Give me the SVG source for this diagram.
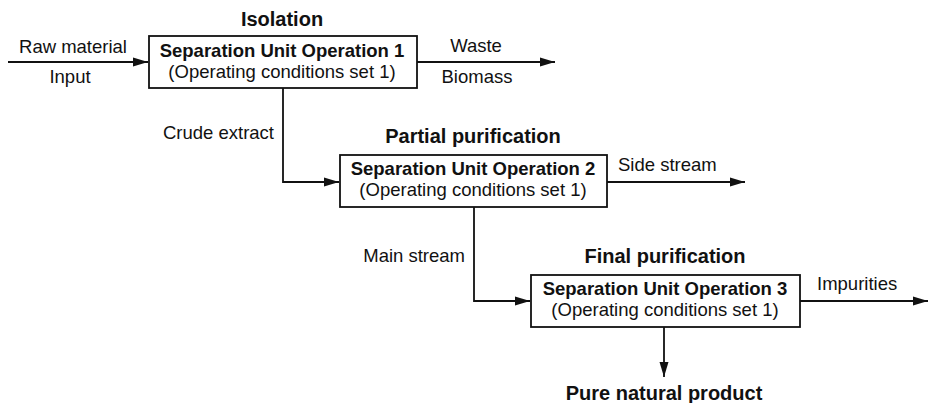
<svg xmlns="http://www.w3.org/2000/svg" width="928" height="403" viewBox="0 0 928 403">
<defs>
<marker id="ah" markerUnits="userSpaceOnUse" markerWidth="15" markerHeight="10" refX="15" refY="5" orient="auto">
<path d="M0,0.5 L15,5 L0,9.5 z" fill="#111"/>
</marker>
<style>
text{font-family:"Liberation Sans",Arial,sans-serif;fill:#111}
.lb{font-size:18.5px}
.bt{font-size:18.5px;font-weight:bold}
.hd{font-size:20px;font-weight:bold}
.box{fill:#fff;stroke:#111;stroke-width:1.8}
.c{fill:none;stroke:#111;stroke-width:1.8}
.m{text-anchor:middle}
.e{text-anchor:end}
</style>
</defs>
<g id="connectors">
<path class="c" d="M8,62 H148" marker-end="url(#ah)"/>
<path class="c" d="M417,62 H555" marker-end="url(#ah)"/>
<path class="c" d="M283,88 V182 H339" marker-end="url(#ah)"/>
<path class="c" d="M607,182 H745" marker-end="url(#ah)"/>
<path class="c" d="M474,207 V301 H530" marker-end="url(#ah)"/>
<path class="c" d="M800,301 H928" marker-end="url(#ah)"/>
<path class="c" d="M664,327 V377" marker-end="url(#ah)"/>
<text class="lb m" x="73" y="53">Raw material</text>
<text class="lb m" x="70" y="83">Input</text>
<text class="lb m" x="476" y="52">Waste</text>
<text class="lb m" x="477" y="83">Biomass</text>
<text class="lb e" x="274" y="139">Crude extract</text>
<text class="lb" x="618" y="171">Side stream</text>
<text class="lb e" x="465" y="262">Main stream</text>
<text class="lb" x="817" y="290">Impurities</text>
</g>
<g id="op1">
<text class="hd m" x="282" y="26">Isolation</text>
<rect class="box" x="149" y="36" width="268" height="52"/>
<text class="bt m" x="282" y="57">Separation Unit Operation 1</text>
<text class="lb m" x="282" y="78">(Operating conditions set 1)</text>
</g>
<g id="op2">
<text class="hd m" x="473" y="143">Partial purification</text>
<rect class="box" x="340" y="155" width="267" height="52"/>
<text class="bt m" x="473" y="175">Separation Unit Operation 2</text>
<text class="lb m" x="473" y="196">(Operating conditions set 1)</text>
</g>
<g id="op3">
<text class="hd m" x="665" y="263">Final purification</text>
<rect class="box" x="531" y="275" width="269" height="52"/>
<text class="bt m" x="665" y="295">Separation Unit Operation 3</text>
<text class="lb m" x="665" y="316">(Operating conditions set 1)</text>
</g>
<g id="product">
<text class="hd m" x="664" y="400">Pure natural product</text>
</g>
</svg>
